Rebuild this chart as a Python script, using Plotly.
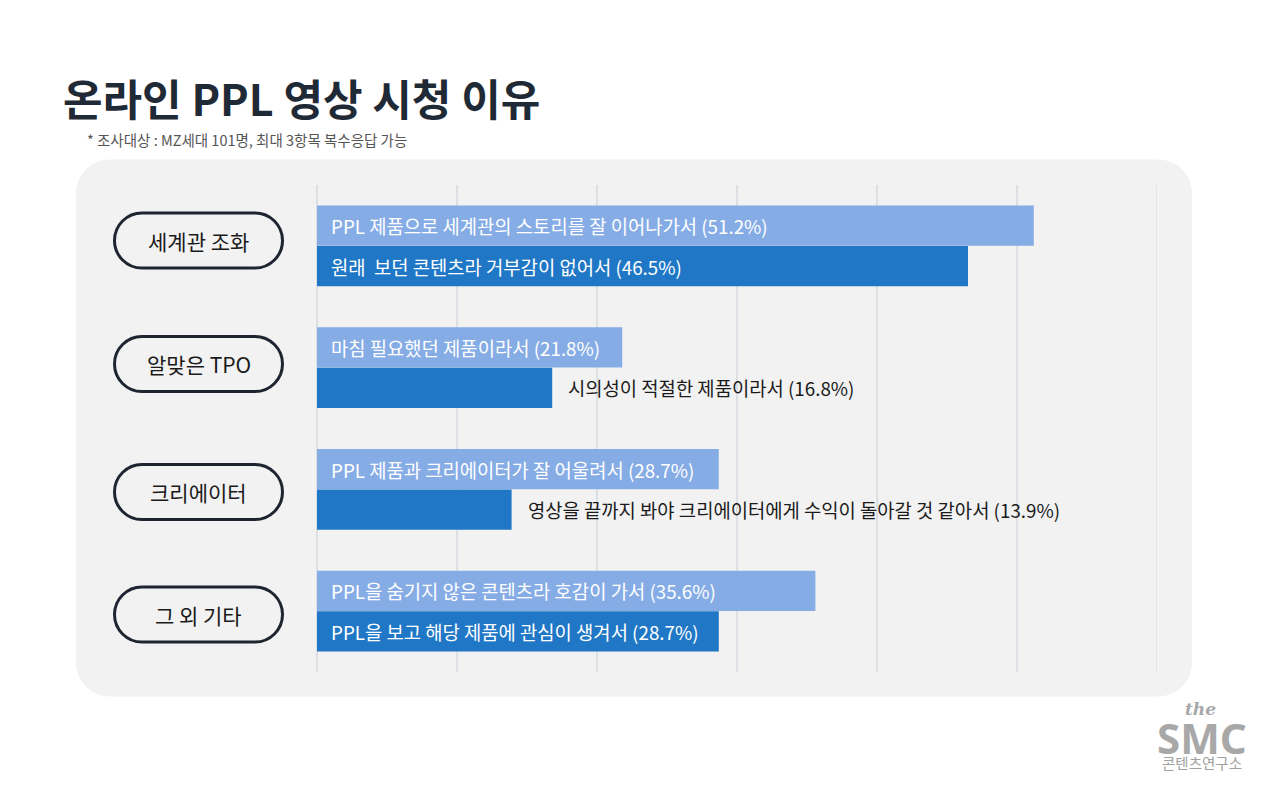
import plotly.graph_objects as go

# categories (top to bottom)
categories = ["세계관 조화", "알맞은 TPO", "크리에이터", "그 외 기타"]

# first reason per category (light bars)
reason_a = ["PPL 제품으로 세계관의 스토리를 잘 이어나가서",
            "마침 필요했던 제품이라서",
            "PPL 제품과 크리에이터가 잘 어울려서",
            "PPL을 숨기지 않은 콘텐츠라 호감이 가서"]
share_a = [51.2, 21.8, 28.7, 35.6]

# second reason per category (dark bars)
reason_b = ["원래  보던 콘텐츠라 거부감이 없어서",
            "시의성이 적절한 제품이라서",
            "영상을 끝까지 봐야 크리에이터에게 수익이 돌아갈 것 같아서",
            "PPL을 보고 해당 제품에 관심이 생겨서"]
share_b = [46.5, 16.8, 13.9, 28.7]

title = "온라인 PPL 영상 시청 이유"
subtitle = "* 조사대상 : MZ세대 101명, 최대 3항목 복수응답 가능"

light = "#86ace6"
dark = "#1f77c6"
font = "Noto Sans CJK KR"

idx = list(range(len(categories)))
off = 0.167
bw = 0.33

fig = go.Figure()
fig.add_trace(go.Bar(x=share_a, y=[i - off for i in idx], width=bw, orientation="h",
                     marker=dict(color=light, line=dict(width=0)), hoverinfo="skip"))
fig.add_trace(go.Bar(x=share_b, y=[i + off for i in idx], width=bw, orientation="h",
                     marker=dict(color=dark, line=dict(width=0)), hoverinfo="skip"))

# bar labels: inside (white) when they fit, otherwise after the bar end
for i in idx:
    for val, txt, dy in [(share_a[i], reason_a[i], -off), (share_b[i], reason_b[i], off)]:
        label = f"{txt} ({val}%)"
        inside = val > 20
        fig.add_annotation(x=0 if inside else val, y=i + dy, xref="x", yref="y",
                           text=label, showarrow=False, xanchor="left", yanchor="middle",
                           xshift=12 if inside else 14,
                           font=dict(family=font, size=18.8,
                                     color="white" if inside else "#1a1a1a"))

# rounded rectangle path in pixels around an anchor
def rounded(w, h, r):
    k = 0.5523 * r
    x, y = w / 2, h / 2
    return (f"M {-x + r},{-y} L {x - r},{-y} C {x - r + k},{-y} {x},{-y + r - k} {x},{-y + r} "
            f"L {x},{y - r} C {x},{y - r + k} {x - r + k},{y} {x - r},{y} "
            f"L {-x + r},{y} C {-x + r - k},{y} {-x},{y - r + k} {-x},{y - r} "
            f"L {-x},{-y + r} C {-x},{-y + r - k} {-x + r - k},{-y} {-x + r},{-y} Z")

# plot area in pixels: x 317..1157, y 185..672
def px_x(p):
    return (p - 317) / 840
def px_y(p):
    return (672 - p) / 487

shapes = []
shapes.append(dict(type="path", xref="paper", yref="paper", xsizemode="pixel", ysizemode="pixel",
                   xanchor=px_x(634), yanchor=px_y(428), path=rounded(1116, 537, 34),
                   fillcolor="#f2f2f2", line=dict(width=0), layer="below"))
# last gridline at the right edge of the axis
shapes.append(dict(type="line", xref="x", yref="paper", x0=60, x1=60, y0=0, y1=1,
                   line=dict(color="#dcdfe3", width=1.5), layer="below"))

pill_centers = [240.5, 364, 492, 614.5]
for i in idx:
    shapes.append(dict(type="path", xref="paper", yref="paper", xsizemode="pixel", ysizemode="pixel",
                       xanchor=px_x(198.5), yanchor=px_y(pill_centers[i]), path=rounded(168, 55, 27.5),
                       fillcolor="rgba(0,0,0,0)", line=dict(color="#1f2530", width=3)))
    fig.add_annotation(x=px_x(198.5), y=px_y(pill_centers[i]), xref="paper", yref="paper",
                       text=categories[i], showarrow=False, xanchor="center", yanchor="middle",
                       font=dict(family=font, size=21, color="#1a1a1a"))

fig.add_annotation(x=px_x(61), y=px_y(97), xref="paper", yref="paper", text=f"<b>{title}</b>",
                   showarrow=False, xanchor="left", yanchor="middle",
                   font=dict(family=font, size=43, color="#1f2a36"))
fig.add_annotation(x=px_x(85), y=px_y(139), xref="paper", yref="paper", text=subtitle,
                   showarrow=False, xanchor="left", yanchor="middle",
                   font=dict(family=font, size=14.5, color="#555555"))

# logo
fig.add_annotation(x=px_x(1200), y=px_y(709), xref="paper", yref="paper", text="<b><i>the</i></b>",
                   showarrow=False, xanchor="center", yanchor="middle",
                   font=dict(family="DejaVu Serif", size=17, color="#a8a8a8"))
fig.add_annotation(x=px_x(1202), y=px_y(737), xref="paper", yref="paper", text="<b>SMC</b>",
                   showarrow=False, xanchor="center", yanchor="middle",
                   font=dict(family="Noto Sans", size=42, color="#a8a8a8"))
fig.add_annotation(x=px_x(1202), y=px_y(762), xref="paper", yref="paper", text="콘텐츠연구소",
                   showarrow=False, xanchor="center", yanchor="middle",
                   font=dict(family=font, size=14.5, color="#a0a0a0"))

fig.update_layout(
    width=1280, height=787,
    margin=dict(l=317, r=123, t=185, b=115),
    paper_bgcolor="white", plot_bgcolor="rgba(0,0,0,0)",
    barmode="overlay", showlegend=False, shapes=shapes,
    xaxis=dict(range=[0, 60], dtick=10, showticklabels=False, showgrid=True,
               gridcolor="#dcdfe3", gridwidth=1.5, zeroline=True, zerolinecolor="#dcdfe3",
               zerolinewidth=1.5, showline=False, fixedrange=True),
    yaxis=dict(range=[3.5, -0.5], showticklabels=False, showgrid=False, zeroline=False,
               showline=False, fixedrange=True),
    font=dict(family=font),
)

fig.write_html("out.html", config={"displayModeBar": False},
               post_script="document.body.style.margin='0';")
